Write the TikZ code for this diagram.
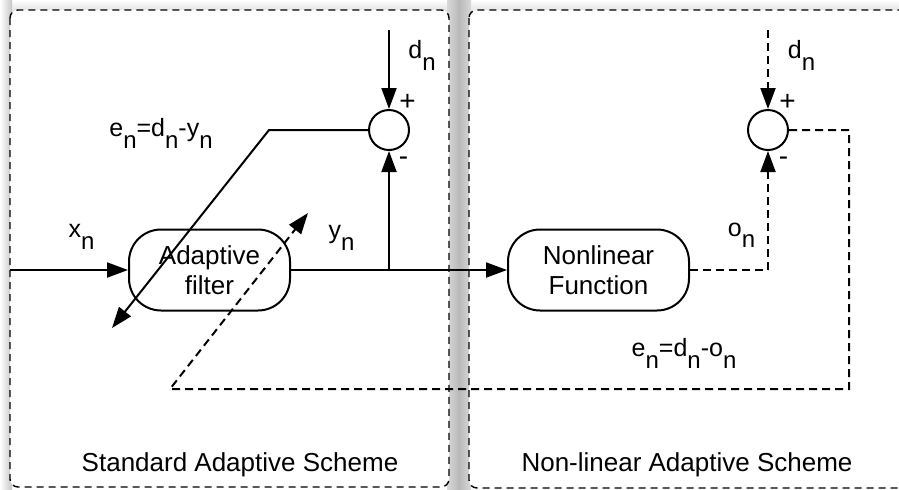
\documentclass[tikz,border=0pt]{standalone}
\usepackage{fontspec}
\setmainfont{Liberation Sans}
\usepackage{tikz}
\usetikzlibrary{arrows.meta}
\newcommand{\sbn}[1]{\raisebox{-0.45em}{\fontsize{12}{14}\selectfont #1}}

\begin{document}
\begin{tikzpicture}[>={Triangle[length=10.5pt,width=7.5pt]}, x=0.5pt, y=-0.5pt, line width=1pt,
  frame/.style={draw, dash pattern=on 3.5pt off 2.5pt, line width=0.7pt, rounded corners=4pt, fill=white},
  block/.style={draw, rounded corners=16pt, minimum width=#1, minimum height=40.5pt, align=center, inner sep=2pt, font=\fontsize{13}{15}\selectfont},
  sum/.style={draw, circle, minimum size=20pt, inner sep=0pt},
  lbl/.style={font=\fontsize{12.5}{14}\selectfont, inner sep=0pt},
  sgn/.style={font=\fontsize{14}{16}\selectfont, inner sep=0pt},
  fb/.style={dash pattern=on 4pt off 2.5pt}]
  \useasboundingbox (0,0) rectangle (899,489);
  \clip (0,0) rectangle (899,489);
  % shadows of the two panels
  \shade[top color=white, bottom color=gray!25] (0,0) rectangle (899,12);
  \shade[left color=white, right color=gray!45] (0,0) rectangle (12,489);
  \shade[left color=gray!30, right color=gray!30, middle color=gray!55] (447,0) rectangle (471,489);
  \draw[frame] (10,10) rectangle (449,487);
  \draw[frame] (469,10) rectangle (920,488);
  % blocks
  \node[block=80.5pt] (filt) at (209.5,270) {Adaptive\\filter};
  \node[block=90.5pt] (nlf) at (598.5,270) {Nonlinear\\Function};
  \node[sum] (sumL) at (389,130) {};
  \node[sum] (sumR) at (768,130) {};
  \coordinate (xin) at (10,270);
  \coordinate (yj) at (389,270);
  \coordinate (dL) at (389,30);
  \coordinate (dR) at (768,30);
  \coordinate (eknee) at (269,130);
  \coordinate (eend) at (112,328);
  \coordinate (oj) at (768,270);
  \coordinate (fbA) at (849,130);
  \coordinate (fbB) at (849,389);
  \coordinate (fbC) at (170,389);
  \coordinate (fbD) at (308,213);
  % standard scheme
  \draw[->] (xin) -- (filt);
  \draw[->] (filt) -- (nlf);
  \draw[->] (yj) -- (sumL);
  \draw[->] (dL) -- (sumL);
  \draw[->] (sumL) -- (eknee) -- (eend);
  % non-linear scheme
  \draw[fb, ->] (dR) -- (sumR);
  \draw[fb] (nlf) -- (oj);
  \draw[fb, ->] (oj) -- (sumR);
  \draw[fb, ->] (sumR) -- (fbA) -- (fbB) -- (fbC) -- (fbD);
  % labels
  \node[lbl] (xl) at (81.5,237) {x\sbn{n}};
  \node[lbl] (yl) at (341.5,238) {y\sbn{n}};
  \node[lbl] (dlL) at (422,55.5) {d\sbn{n}};
  \node[lbl] (elL) at (161,133.5) {e\sbn{n}=d\sbn{n}-y\sbn{n}};
  \node[sgn] (pL) at (407.5,102) {+};
  \node[sgn] (mL) at (403.5,161) {-};
  \node[lbl] (dlR) at (801.5,55.5) {d\sbn{n}};
  \node[lbl] (ol) at (741.5,235) {o\sbn{n}};
  \node[lbl] (elR) at (684,353.5) {e\sbn{n}=d\sbn{n}-o\sbn{n}};
  \node[sgn] (pR) at (787.5,102.5) {+};
  \node[sgn] (mR) at (783.5,161.5) {-};
  \node[font=\fontsize{13}{15}\selectfont, anchor=base] (tL) at (240,471) {Standard Adaptive Scheme};
  \node[font=\fontsize{13}{15}\selectfont, anchor=base] (tR) at (687,471) {Non-linear Adaptive Scheme};
\end{tikzpicture}
\end{document}
